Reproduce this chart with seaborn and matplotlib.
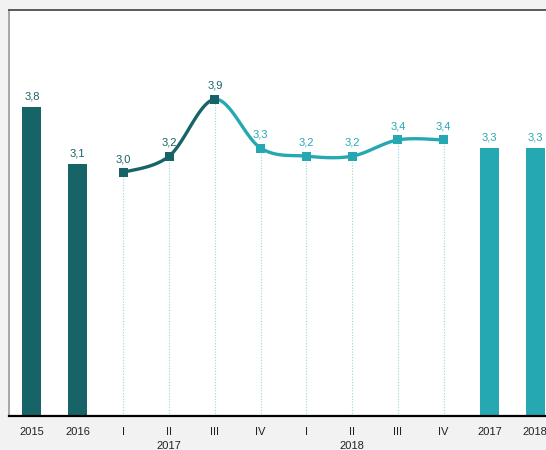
import numpy as np
import pandas as pd
import matplotlib
matplotlib.use('Agg')
import matplotlib.pyplot as plt
import matplotlib.transforms as mtransforms
import seaborn as sns

DARK = '#176468'
LIGHT = '#25a8b2'
GRID = '#9dd6da'

# data
annual_years = ['2015', '2016', '2017', '2018']
annual_values = [3.8, 3.1, 3.3, 3.3]
quarter_names = ['I', 'II', 'III', 'IV', 'I', 'II', 'III', 'IV']
quarter_years = ['2017'] * 4 + ['2018'] * 4
quarterly_values = [3.0, 3.2, 3.9, 3.3, 3.2, 3.2, 3.4, 3.4]

# category order along the x axis
keys = (['Y2015', 'Y2016']
        + [f'{y} {q}' for y, q in zip(quarter_years, quarter_names)]
        + ['Y2017', 'Y2018'])
tick_labels = ['2015', '2016'] + quarter_names + ['2017', '2018']
bar_keys = ['Y2015', 'Y2016', 'Y2017', 'Y2018']
bar_colours = {'Y2015': DARK, 'Y2016': DARK, 'Y2017': LIGHT, 'Y2018': LIGHT}

sns.set_style('white')
plt.rcParams['font.family'] = ['Liberation Sans Narrow', 'Liberation Sans', 'DejaVu Sans']

fig = plt.figure(figsize=(5.46, 4.5), dpi=100, facecolor='#f2f2f2')
ax = fig.add_axes([9 / 546, 34 / 450, 549 / 546, 406 / 450])
ax.set_facecolor('white')

bars = pd.DataFrame({'key': bar_keys, 'value': annual_values})
sns.barplot(data=bars, x='key', y='value', hue='key', order=keys,
            palette=bar_colours, width=0.42, legend=False, ax=ax,
            saturation=1, linewidth=0)

for key, val in zip(bar_keys, annual_values):
    xi = keys.index(key)
    ax.annotate(f'{val:.1f}'.replace('.', ','), (xi, val), xytext=(0, 4),
                textcoords='offset points', ha='center', va='bottom',
                fontsize=8, color=bar_colours[key])

# quarterly line, smoothed like a spreadsheet curve (bezier through the points)
qx = np.array([keys.index(f'{y} {q}') for y, q in zip(quarter_years, quarter_names)], float)
qy = np.array(quarterly_values, float)


def bezier_segment(i):
    p0 = np.array([qx[i], qy[i]])
    p3 = np.array([qx[i + 1], qy[i + 1]])
    prev = np.array([qx[i - 1], qy[i - 1]]) if i > 0 else p0
    nxt = np.array([qx[i + 2], qy[i + 2]]) if i + 2 < len(qx) else p3
    c1 = p0 + (p3 - prev) / 6
    c2 = p3 - (nxt - p0) / 6
    t = np.linspace(0, 1, 40)[:, None]
    pts = (1 - t) ** 3 * p0 + 3 * (1 - t) ** 2 * t * c1 + 3 * (1 - t) * t ** 2 * c2 + t ** 3 * p3
    return pts


for i in range(len(qx) - 1):
    pts = bezier_segment(i)
    colour = DARK if i < 2 else LIGHT
    ax.plot(pts[:, 0], pts[:, 1], color=colour, lw=2.4, solid_capstyle='round', zorder=3)

point_colours = [DARK if i < 3 else LIGHT for i in range(len(qx))]
ax.vlines(qx, 0, qy, colors=GRID, linestyles=(0, (1, 1.5)), lw=0.8, zorder=1)
ax.scatter(qx, qy, marker='s', s=42, c=point_colours, zorder=4, linewidths=0)
for x, y, c in zip(qx, qy, point_colours):
    ax.annotate(f'{y:.1f}'.replace('.', ','), (x, y), xytext=(0, 6),
                textcoords='offset points', ha='center', va='bottom',
                fontsize=8, color=c)

ax.set_xlim(-0.5, len(keys) - 0.5)
ax.set_ylim(0, 5)
ax.set_yticks([])
ax.set_xticks(range(len(keys)))
ax.set_xticklabels(tick_labels, fontsize=8, color='#222222')
ax.tick_params(axis='x', length=0, pad=8)
ax.set_xlabel('')
ax.set_ylabel('')

trans = mtransforms.blended_transform_factory(ax.transData, fig.transFigure)
for y in ['2017', '2018']:
    xi = keys.index(f'{y} II')
    ax.text(xi, 1 - 446 / 450, y, transform=trans, ha='center', va='center',
            fontsize=8, color='#222222')

ax.spines['bottom'].set_color('black')
ax.spines['bottom'].set_linewidth(1.6)
ax.spines['top'].set_color('#595959')
ax.spines['top'].set_linewidth(1.4)
ax.spines['left'].set_color('#a6a6a6')
ax.spines['left'].set_linewidth(1.4)
ax.spines['right'].set_visible(False)

fig.savefig('out.png', dpi=100, facecolor=fig.get_facecolor())
